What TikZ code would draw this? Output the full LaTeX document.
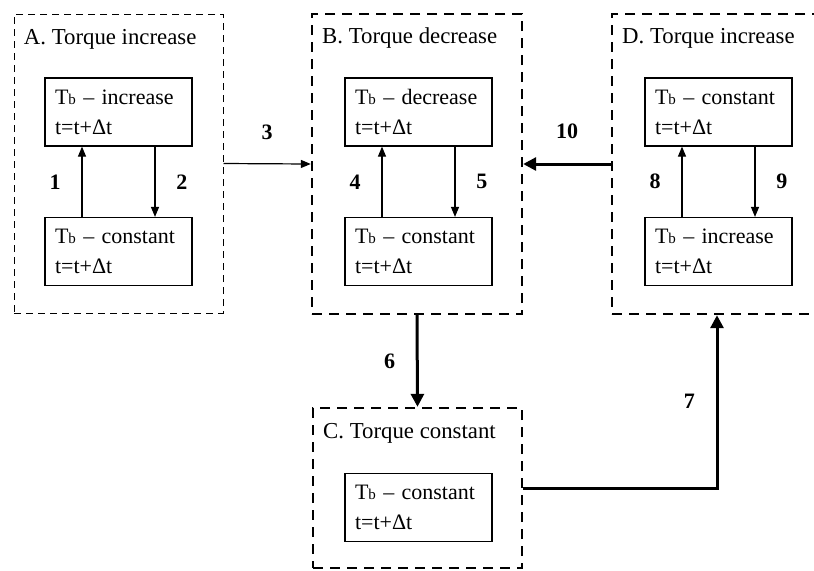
\documentclass[tikz,border=0pt]{standalone}
\usepackage{fontspec}
\setmainfont{Liberation Serif}
\usetikzlibrary{arrows.meta, positioning, calc}

\newcommand{\Tb}{T{\fontsize{7.5}{8}\selectfont b}}

\begin{document}
\begin{tikzpicture}[x=0.5pt, y=-0.5pt,
    every node/.style={font=\fontsize{11}{15}\selectfont},
    groupthin/.style={draw, line width=0.5pt, dash pattern=on 3.5pt off 2.5pt, minimum width=104.5pt},
    groupthick/.style={draw, line width=1.2pt, dash pattern=on 5pt off 3.5pt, minimum width=105pt},
    grouptitle/.style={anchor=base west, inner sep=0pt, font=\fontsize{11.4}{14}\selectfont},
    state/.style={draw, line width=0.6pt, text width=63.5pt, inner xsep=5pt, align=left, minimum height=34pt},
    num/.style={font=\fontsize{11}{13}\selectfont\bfseries},
    link/.style={line width=0.6pt, -{Triangle[length=5pt, width=4pt]}},
    jump/.style={line width=1.5pt, -{Triangle[length=6.5pt, width=6.5pt]}}]
    \clip (0,0) rectangle (814,570);
    % the four stages
    \node[groupthin, minimum height=149.5pt] (A) at (118.5,163.5) {};
    \node[groupthick, minimum height=150pt] (B) at (417,164) {};
    \node[groupthick, minimum height=150pt] (D) at (717,164) {};
    \node[groupthick, minimum height=80pt, minimum width=104.5pt] (C) at (417.5,488) {};
    \node[grouptitle] (Atitle) at ([xshift=5pt, yshift=-15.5pt]A.north west) {A. Torque increase};
    \node[grouptitle] (Btitle) at ([xshift=5.5pt, yshift=-15.5pt]B.north west) {B. Torque decrease};
    \node[grouptitle] (Dtitle) at ([xshift=5.5pt, yshift=-15.5pt]D.north west) {D. Torque increase};
    \node[grouptitle] (Ctitle) at ([xshift=5.5pt, yshift=-16pt]C.north west) {C. Torque constant};
    % states inside each stage
    \node[state] (A1) at (118.5,112) {\Tb{} -- increase\\t=t+Δt};
    \node[state] (A2) at (118.5,251.5) {\Tb{} -- constant\\t=t+Δt};
    \node[state] (B1) at (418.5,112) {\Tb{} -- decrease\\t=t+Δt};
    \node[state] (B2) at (418.5,251.5) {\Tb{} -- constant\\t=t+Δt};
    \node[state] (D1) at (718.5,112) {\Tb{} -- constant\\t=t+Δt};
    \node[state] (D2) at (718.5,251.5) {\Tb{} -- increase\\t=t+Δt};
    \node[state] (C1) at (418.5,507.5) {\Tb{} -- constant\\t=t+Δt};
    % loops inside the stages
    \draw[link] ([xshift=-18.25pt]A2.north) -- node[num, left=7pt] {1} ([xshift=-18.25pt]A1.south);
    \draw[link] ([xshift=18.25pt]A1.south) -- node[num, right=7pt] {2} ([xshift=18.25pt]A2.north);
    \draw[link] ([xshift=-18.25pt]B2.north) -- node[num, left=7pt] {4} ([xshift=-18.25pt]B1.south);
    \draw[link] ([xshift=18.25pt]B1.south) -- node[num, right=7pt] {5} ([xshift=18.25pt]B2.north);
    \draw[link] ([xshift=-18.25pt]D2.north) -- node[num, left=7pt] {8} ([xshift=-18.25pt]D1.south);
    \draw[link] ([xshift=18.25pt]D1.south) -- node[num, right=7pt] {9} ([xshift=18.25pt]D2.north);
    % transitions between stages
    \draw[link] (A.east) -- node[num, above=8.5pt] {3} (B.west);
    \draw[jump] (B.south) -- node[num, left=7pt] {6} (C.north);
    \draw[jump] (C.east) -| node[num, pos=0.75, left=7pt] {7} (D.south);
    \draw[jump] (D.west) -- node[num, above=8.5pt] {10} (B.east);
\end{tikzpicture}
\end{document}
